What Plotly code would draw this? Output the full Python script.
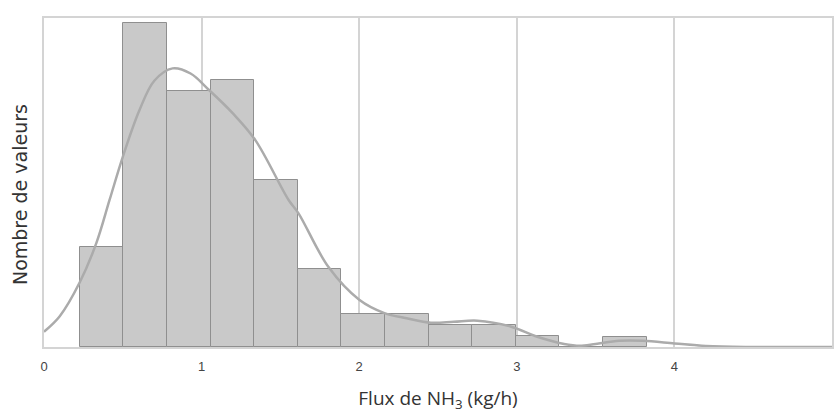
import plotly.graph_objects as go

# Histogram data (bins of NH3 flux, kg/h)
bin_start = 0.227
bin_width = 0.2767
counts = [9.76, 31.5, 24.9, 26.0, 16.2, 7.6, 3.2, 3.2, 2.1, 2.1, 1.1, 0.0, 1.0]

# Density curve (scaled to counts)
curve_x = [0.0, 0.1, 0.227, 0.332, 0.416, 0.5, 0.606, 0.7, 0.816, 0.93, 1.047, 1.2, 1.342,
           1.552, 1.615, 1.804, 2.0, 2.16, 2.3, 2.455, 2.6, 2.75, 2.96, 3.13, 3.3, 3.4,
           3.5, 3.65, 3.8, 4.0, 4.2, 4.45, 4.7, 5.0]
curve_y = [1.49, 3.0, 6.3, 10.1, 14.3, 18.5, 23.05, 25.9, 27.1, 26.6, 25.0, 22.7, 20.1,
           14.3, 13.0, 7.8, 4.6, 3.3, 2.8, 2.36, 2.45, 2.56, 2.0, 1.0, 0.3, 0.12,
           0.3, 0.6, 0.6, 0.35, 0.1, 0.0, 0.0, 0.0]

x_ticks = [0, 1, 2, 3, 4, 5]

centers = [bin_start + bin_width * (i + 0.5) for i in range(len(counts))]

fig = go.Figure()
fig.add_trace(go.Bar(
    x=centers, y=counts, width=[bin_width] * len(counts),
    marker=dict(color="#c9c9c9", line=dict(color="#8f8f8f", width=1)),
    showlegend=False, hoverinfo="skip",
))
fig.add_trace(go.Scatter(
    x=curve_x, y=curve_y, mode="lines",
    line=dict(color="#ababab", width=2.5, shape="spline", smoothing=1.0),
    showlegend=False, hoverinfo="skip",
))

fig.update_layout(
    width=834, height=415,
    margin=dict(l=44, r=0, t=18, b=68),
    plot_bgcolor="white", paper_bgcolor="white",
    bargap=0,
    xaxis=dict(
        range=[0, 5], tickvals=x_ticks, ticktext=[str(t) for t in x_ticks],
        showgrid=True, gridcolor="#d4d4d4", gridwidth=1.5,
        showline=True, linecolor="#d4d4d4", linewidth=2, mirror=True,
        zeroline=False, ticks="outside", ticklen=6, tickcolor="rgba(0,0,0,0)",
        tickfont=dict(family="Liberation Sans, Arial", size=13, color="#444"),
        title=dict(text="Flux de NH<sub>3</sub> (kg/h)",
                   font=dict(family="Open Sans", size=19, color="#333"),
                   standoff=19),
    ),
    yaxis=dict(
        range=[0, 32], showticklabels=False, showgrid=False, zeroline=False,
        showline=True, linecolor="#d4d4d4", linewidth=2, mirror=True, ticks="",
    ),
    annotations=[dict(
        text="Nombre de valeurs", textangle=-90,
        xref="paper", yref="paper", x=-0.0304, y=0.462,
        xanchor="center", yanchor="middle", showarrow=False,
        font=dict(family="DejaVu Sans", size=19, color="#333"),
    )],
)

fig.write_html("out.html")
